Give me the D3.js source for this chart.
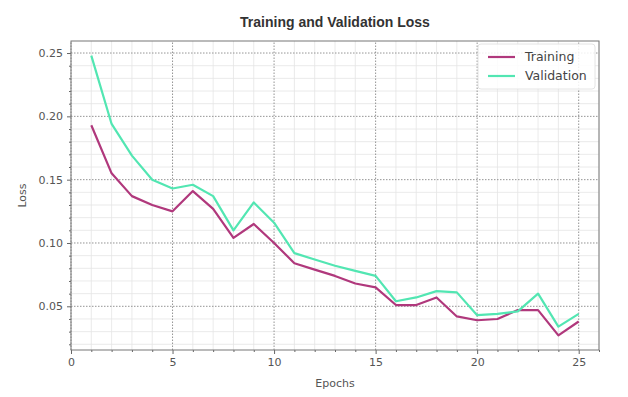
<!DOCTYPE html>
<html>
<head>
<meta charset="utf-8">
<script src="https://cdn.jsdelivr.net/npm/d3@7"></script>
<style>
  body { margin: 0; background: #fff; }
  svg { display: block; }
</style>
</head>
<body>
<script>
// loss values per epoch
var epochs = d3.range(1, 26);
var trainingLoss = [0.193, 0.155, 0.137, 0.130, 0.125, 0.141, 0.127, 0.104, 0.115, 0.100,
                    0.084, 0.079, 0.074, 0.068, 0.065, 0.051, 0.051, 0.057, 0.042, 0.039,
                    0.040, 0.047, 0.047, 0.027, 0.038];
var validationLoss = [0.248, 0.194, 0.169, 0.150, 0.143, 0.146, 0.137, 0.110, 0.132, 0.116,
                      0.092, 0.087, 0.082, 0.078, 0.074, 0.054, 0.057, 0.062, 0.061, 0.043,
                      0.044, 0.046, 0.060, 0.034, 0.044];
var seriesNames = ["Training", "Validation"];
var xTicks = [0, 5, 10, 15, 20, 25];
var yTicks = [0.05, 0.10, 0.15, 0.20, 0.25];

var width = 628, height = 397;
var margin = {top: 41, right: 29, bottom: 47, left: 71};
var colors = {Training: "#b0387c", Validation: "#52e6b2"};

var svg = d3.select("body").append("svg")
    .attr("width", width)
    .attr("height", height);

var x = d3.scaleLinear().domain([0, 26]).range([margin.left, width - margin.right]);
var y = d3.scaleLinear().domain([0.0155, 0.2595]).range([height - margin.bottom, margin.top]);

var x0 = margin.left, x1 = width - margin.right;
var y0 = height - margin.bottom, y1 = margin.top;

// minor grid
var xMinor = d3.range(0, 27, 1).filter(d => d % 5 != 0);
var yMinor = d3.range(0.02, 0.26, 0.01).filter(d => Math.round(d * 100) % 5 != 0);

svg.append("g").selectAll("line.xm").data(xMinor).enter().append("line")
    .attr("x1", d => x(d)).attr("x2", d => x(d))
    .attr("y1", y0).attr("y2", y1)
    .attr("stroke", "#e4e4e4").attr("stroke-width", 0.8);
svg.append("g").selectAll("line.ym").data(yMinor).enter().append("line")
    .attr("y1", d => y(d)).attr("y2", d => y(d))
    .attr("x1", x0).attr("x2", x1)
    .attr("stroke", "#e4e4e4").attr("stroke-width", 0.8);

// major grid (dotted)
svg.append("g").selectAll("line").data(xTicks).enter().append("line")
    .attr("x1", d => x(d)).attr("x2", d => x(d))
    .attr("y1", y0).attr("y2", y1)
    .attr("stroke", "#888").attr("stroke-width", 0.9)
    .attr("stroke-dasharray", "1.5,1.5");
svg.append("g").selectAll("line").data(yTicks).enter().append("line")
    .attr("y1", d => y(d)).attr("y2", d => y(d))
    .attr("x1", x0).attr("x2", x1)
    .attr("stroke", "#888").attr("stroke-width", 0.9)
    .attr("stroke-dasharray", "1.5,1.5");

// axes
var xAxis = svg.append("g")
    .attr("transform", `translate(0,${y0})`)
    .call(d3.axisBottom(x).tickValues(xTicks).tickFormat(d3.format("d")).tickSize(4).tickPadding(4));
var yAxis = svg.append("g")
    .attr("transform", `translate(${x0},0)`)
    .call(d3.axisLeft(y).tickValues(yTicks).tickFormat(d3.format(".2f")).tickSize(4).tickPadding(4));

svg.append("g")
    .attr("transform", `translate(0,${y0})`)
    .call(d3.axisBottom(x).tickValues(xMinor).tickFormat("").tickSize(2))
    .call(g => g.select(".domain").remove());
svg.append("g")
    .attr("transform", `translate(${x0},0)`)
    .call(d3.axisLeft(y).tickValues(yMinor).tickFormat("").tickSize(2))
    .call(g => g.select(".domain").remove());

svg.selectAll(".tick line").attr("stroke", "#666");
svg.selectAll(".domain").remove();
[xAxis, yAxis].forEach(g => g.selectAll("text")
    .style("font", "11px 'DejaVu Sans', sans-serif")
    .attr("fill", "#555"));

// frame
svg.append("rect")
    .attr("x", x0).attr("y", y1)
    .attr("width", x1 - x0).attr("height", y0 - y1)
    .attr("fill", "none").attr("stroke", "#777").attr("stroke-width", 1);

// lines
var line = d3.line()
    .x((d, i) => x(epochs[i]))
    .y(d => y(d));

svg.append("path").datum(trainingLoss)
    .attr("fill", "none").attr("stroke", colors.Training)
    .attr("stroke-width", 2.2).attr("stroke-linejoin", "round")
    .attr("d", line);
svg.append("path").datum(validationLoss)
    .attr("fill", "none").attr("stroke", colors.Validation)
    .attr("stroke-width", 2.2).attr("stroke-linejoin", "round")
    .attr("d", line);

// legend
var legend = svg.append("g").attr("transform", "translate(478,44)");
legend.append("rect")
    .attr("x", 0).attr("y", 0).attr("width", 117).attr("height", 45)
    .attr("rx", 3)
    .attr("fill", "#fff").attr("fill-opacity", 0.85)
    .attr("stroke", "#ddd").attr("stroke-width", 0.8);
seriesNames.forEach((name, i) => {
  var ly = 13 + i * 19;
  legend.append("line")
      .attr("x1", 10).attr("x2", 37).attr("y1", ly).attr("y2", ly)
      .attr("stroke", colors[name]).attr("stroke-width", 2.2);
  legend.append("text")
      .attr("x", 47).attr("y", ly).attr("dy", "0.35em")
      .style("font", "12.5px 'DejaVu Sans', sans-serif")
      .attr("fill", "#444")
      .text(name);
});

// title and axis labels
svg.append("text")
    .attr("x", (x0 + x1) / 2).attr("y", 27)
    .attr("text-anchor", "middle")
    .style("font", "bold 14px 'Liberation Sans', Arial, sans-serif")
    .attr("fill", "#333")
    .text("Training and Validation Loss");

svg.append("text")
    .attr("x", (x0 + x1) / 2).attr("y", 387)
    .attr("text-anchor", "middle")
    .style("font", "11px 'DejaVu Sans', sans-serif")
    .attr("fill", "#555")
    .text("Epochs");

svg.append("text")
    .attr("transform", `translate(26,${(y0 + y1) / 2}) rotate(-90)`)
    .attr("text-anchor", "middle")
    .style("font", "11px 'DejaVu Sans', sans-serif")
    .attr("fill", "#555")
    .text("Loss");
</script>
</body>
</html>
